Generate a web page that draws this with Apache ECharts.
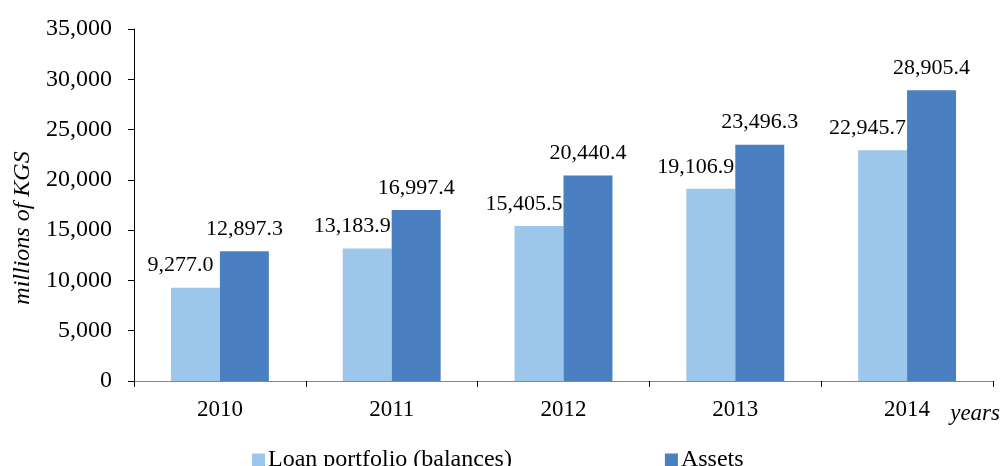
<!DOCTYPE html>
<html>
<head>
<meta charset="utf-8">
<script src="https://cdn.jsdelivr.net/npm/echarts@6/dist/echarts.min.js"></script>
<style>
  html, body { margin: 0; padding: 0; background: #fff; }
  #chart { width: 1003px; height: 466px; }
</style>
</head>
<body>
<div id="chart"></div>
<script>
// Loan portfolio vs. total assets, millions of KGS
const years = ['2010', '2011', '2012', '2013', '2014'];
const loanPortfolio = [9277.0, 13183.9, 15405.5, 19106.9, 22945.7];
const assets = [12897.3, 16997.4, 20440.4, 23496.3, 28905.4];
const yTicks = [0, 5000, 10000, 15000, 20000, 25000, 30000, 35000];

const FONT = '"Liberation Serif", "Times New Roman", serif';
const fmt = v => v.toLocaleString('en-US', { minimumFractionDigits: 1, maximumFractionDigits: 1 });
const fmtTick = v => v.toLocaleString('en-US');

const chart = echarts.init(document.getElementById('chart'), null, { renderer: 'canvas' });

const baseLabel = {
  show: true,
  position: 'top',
  distance: 11,
  fontFamily: FONT,
  fontSize: 22,
  color: '#000',
  formatter: p => fmt(p.value)
};

chart.setOption({
  animation: false,
  backgroundColor: '#fff',
  grid: { left: 134, right: 10, top: 29, bottom: 85, containLabel: false },
  legend: {
    left: 247,
    top: 443,
    itemWidth: 13,
    itemHeight: 13,
    itemGap: 153,
    icon: 'rect',
    textStyle: { fontFamily: FONT, fontSize: 24, color: '#000', padding: [0, 0, 0, -2] },
    data: ['Loan portfolio (balances)', 'Assets']
  },
  xAxis: {
    type: 'category',
    data: years,
    name: 'years',
    nameLocation: 'end',
    nameGap: 0,
    nameTextStyle: {
      fontFamily: FONT, fontSize: 23, fontStyle: 'italic', color: '#000',
      align: 'right', verticalAlign: 'top', padding: [21, -7, 0, 0]
    },
    axisLine: { lineStyle: { color: '#868686', width: 1 } },
    axisTick: { show: true, length: 6, lineStyle: { color: '#000' } },
    axisLabel: { fontFamily: FONT, fontSize: 23, color: '#000', margin: 17 },
    splitLine: { show: false }
  },
  yAxis: {
    type: 'value',
    min: 0,
    max: 35000,
    interval: 5000,
    name: 'millions of KGS',
    nameLocation: 'middle',
    nameGap: 92,
    nameRotate: 90,
    nameTextStyle: {
      fontFamily: FONT, fontSize: 24, fontStyle: 'italic', color: '#000',
      padding: [0, 46, 0, 0]
    },
    axisLine: { show: true, lineStyle: { color: '#000', width: 1 } },
    axisTick: { show: true, length: 6, lineStyle: { color: '#000' } },
    axisLabel: {
      fontFamily: FONT, fontSize: 24, color: '#000', margin: 22,
      formatter: v => yTicks.includes(v) ? fmtTick(v) : ''
    },
    splitLine: { show: false }
  },
  series: [
    {
      name: 'Loan portfolio (balances)',
      type: 'bar',
      data: loanPortfolio,
      barGap: '0%',
      barCategoryGap: '43%',
      itemStyle: { color: '#9DC7EA' },
      label: Object.assign({}, baseLabel, { offset: [-15, 0] })
    },
    {
      name: 'Assets',
      type: 'bar',
      data: assets,
      barGap: '0%',
      barCategoryGap: '43%',
      itemStyle: { color: '#4A7FC1' },
      label: baseLabel
    }
  ]
});
</script>
</body>
</html>
